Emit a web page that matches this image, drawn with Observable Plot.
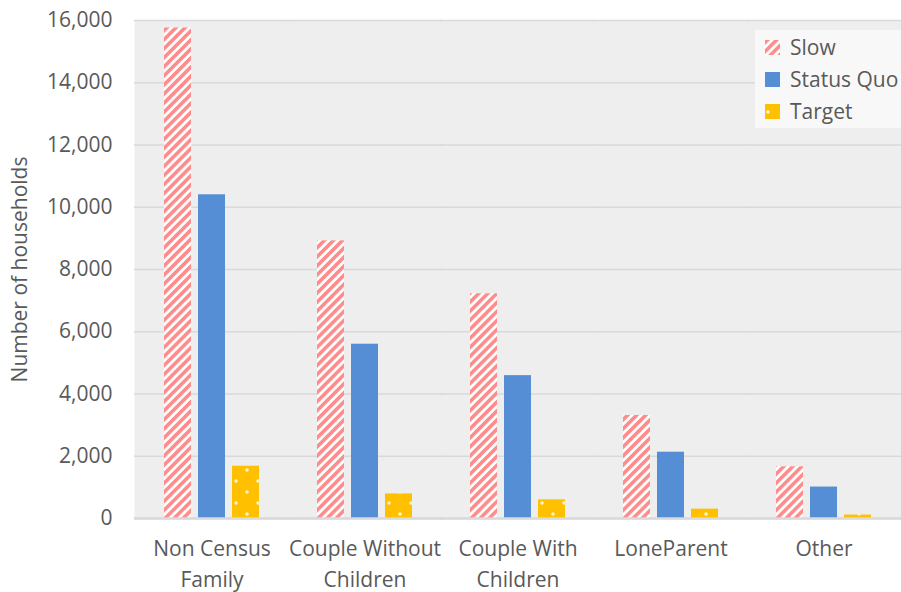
<!DOCTYPE html>
<html>
<head>
<meta charset="utf-8">
<script src="https://cdn.jsdelivr.net/npm/d3@7"></script>
<script src="https://cdn.jsdelivr.net/npm/@observablehq/plot@0.6"></script>
<style>
  html, body { margin: 0; padding: 0; background: #ffffff; }
  #wrap { position: relative; width: 901px; height: 592px; overflow: hidden; font-family: "Open Sans", sans-serif; }
  #legend { position: absolute; left: 755px; top: 30px; width: 160px; height: 98px; background: #f8f8f8; }
  .row { position: absolute; left: 10px; height: 32px; display: flex; align-items: center; font-size: 21px; color: #595959; white-space: nowrap; }
  .row svg { margin-right: 10px; }
</style>
</head>
<body>
<div id="wrap"></div>
<script>
// ---- data ----
const categories = ["Non Census\nFamily", "Couple Without\nChildren", "Couple With\nChildren", "LoneParent", "Other"];
const series = ["Slow", "Status Quo", "Target"];
const slow = [15760, 8920, 7220, 3310, 1660];
const statusQuo = [10400, 5600, 4590, 2130, 1010];
const target = [1680, 790, 600, 300, 110];
const yTicks = [0, 2000, 4000, 6000, 8000, 10000, 12000, 14000, 16000];
const yLabel = "Number of households";

const seriesValues = { "Slow": slow, "Status Quo": statusQuo, "Target": target };
const data = categories.flatMap((c, i) => series.map(s => ({ cat: c, s, v: seriesValues[s][i] })));

const fills = ["url(#pSlow)", "#558ED5", "url(#pTarget)"];

// pattern defs (global, shared by chart and legend)
const defsSvg = `
<svg width="0" height="0" style="position:absolute">
  <defs>
    <pattern id="pSlow" patternUnits="userSpaceOnUse" width="6.4" height="6.4" patternTransform="rotate(45)">
      <rect width="6.4" height="6.4" fill="#ffffff"></rect>
      <rect width="3.6" height="6.4" fill="#ff8c8c"></rect>
    </pattern>
    <pattern id="pTarget" patternUnits="userSpaceOnUse" width="22" height="22">
      <rect width="22" height="22" fill="#ffc000"></rect>
      <circle cx="3" cy="8" r="1.8" fill="#fff6d0"></circle>
      <circle cx="14" cy="19" r="1.8" fill="#fff6d0"></circle>
    </pattern>
  </defs>
</svg>`;

const wrap = document.getElementById("wrap");
wrap.insertAdjacentHTML("beforeend", defsSvg);

const chart = Plot.plot({
  width: 901,
  height: 592,
  marginLeft: 133,
  marginRight: 0,
  marginTop: 20,
  marginBottom: 74,
  style: { fontFamily: "Open Sans, sans-serif", fontSize: "21px", color: "#595959", background: "#ffffff" },
  fx: { domain: categories, padding: 0, label: null, axis: null },
  x: { domain: series, paddingInner: 0.22, paddingOuter: 0.836, axis: null },
  y: { domain: [0, 16000], label: null },
  color: { domain: series, range: fills },
  marks: [
    Plot.frame({ fill: "#eeeeee", stroke: "none", insetLeft: -1, insetRight: -1 }),
    Plot.gridY(yTicks, { stroke: "#d9d9d9", strokeOpacity: 1, strokeWidth: 1.6, insetLeft: -1, insetRight: -1 }),
    Plot.barY(data, { fx: "cat", x: "s", y: "v", fill: "s" }),
    Plot.ruleY([0], { stroke: "#d9d9d9", strokeWidth: 2.5, insetLeft: -1, insetRight: -1 }),
    Plot.axisY(yTicks, {
      tickSize: 0, tickPadding: 23, tickFormat: d3.format(","),
      fontSize: 21, fill: "#595959",
      label: yLabel, labelAnchor: "center", labelArrow: "none", labelOffset: 123
    }),
    Plot.axisFx({ anchor: "bottom", tickSize: 0, tickPadding: 16, lineHeight: 1.45, fontSize: 21, fill: "#595959", label: null })
  ]
});
wrap.appendChild(chart);

// legend
const legend = document.createElement("div");
legend.id = "legend";
series.forEach((s, i) => {
  const row = document.createElement("div");
  row.className = "row";
  row.style.top = (1 + i * 32) + "px";
  row.innerHTML = `<svg width="15" height="15"><rect width="15" height="15" fill="${fills[i]}"></rect></svg><span>${s}</span>`;
  legend.appendChild(row);
});
wrap.appendChild(legend);
</script>
</body>
</html>
